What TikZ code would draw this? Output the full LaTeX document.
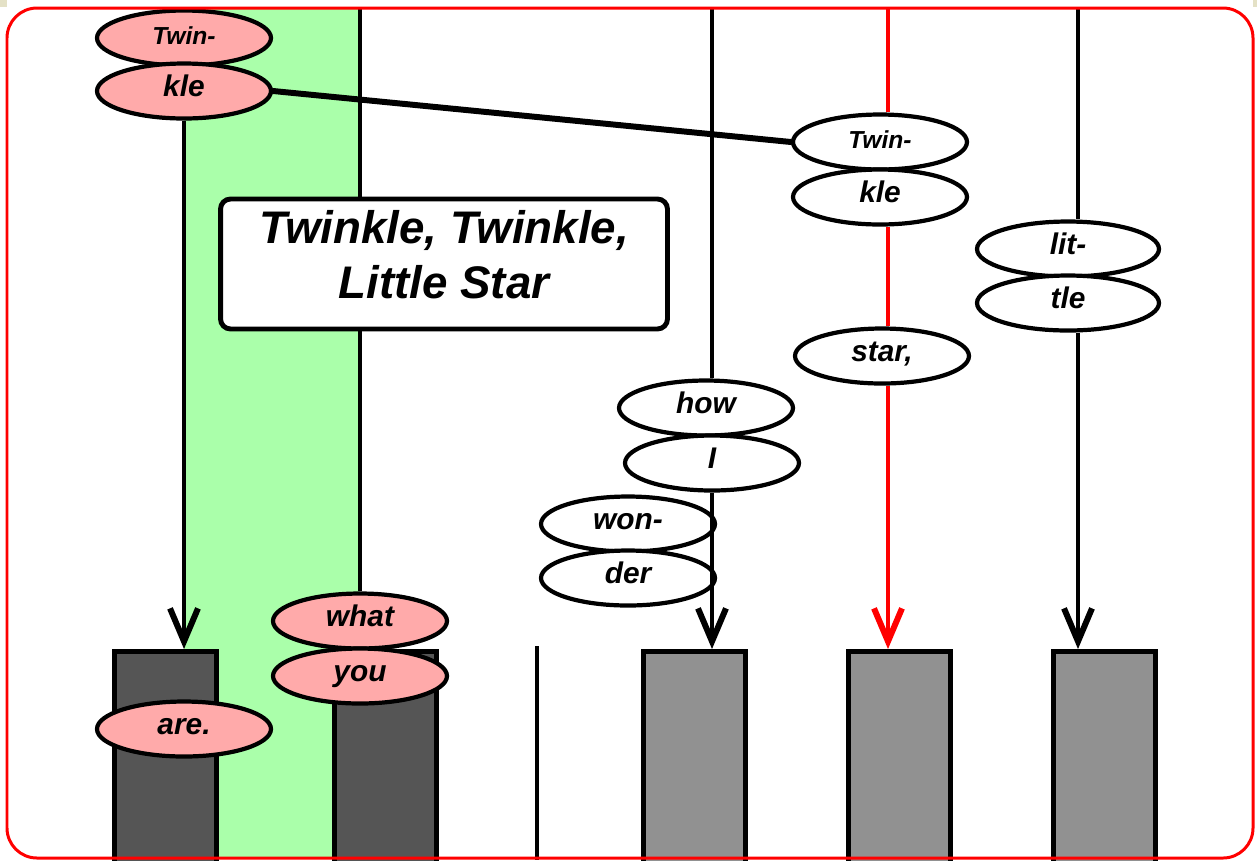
\documentclass[tikz,border=0pt]{standalone}
\usepackage{fontspec}
\setmainfont{Liberation Sans}
\usetikzlibrary{shapes.geometric,arrows.meta}
\definecolor{sungpink}{HTML}{FFAAAA}
\definecolor{bandgreen}{HTML}{AAFFAA}
\definecolor{darkkey}{HTML}{555555}
\definecolor{lightkey}{HTML}{919191}
\definecolor{cornerbeige}{HTML}{E4E1C6}
\begin{document}
\begin{tikzpicture}[x=0.02cm,y=-0.02cm,
  syl/.style={ellipse,draw,line width=2.4pt,fill=white,inner sep=0pt,
    minimum width=3.48cm,minimum height=1.1cm,text height=12pt,text depth=6pt,
    font=\fontsize{17}{20}\selectfont\bfseries\itshape},
  sung/.style={syl,fill=sungpink},
  half/.style={text height=10pt,text depth=2.5pt,
    font=\fontsize{14}{17}\selectfont\bfseries\itshape},
  key/.style={draw,line width=2.8pt,anchor=north west,inner sep=0pt,
    minimum width=2.04cm,minimum height=4.4cm},
  voice/.style={line width=2.4pt},
  tip/.style={-{Straight Barb[length=0.66cm,width=0.56cm,line width=3.4pt]}}]
\useasboundingbox (0,0) rectangle (1257,860);
\fill[cornerbeige] (0,0) rectangle (7,7);
\fill[cornerbeige] (1253,0) rectangle (1257,7);
\fill[bandgreen] (184,8) rectangle (360,858);
\node[key,fill=darkkey] (bar1) at (112,649) {};
\node[key,fill=darkkey] (bar2) at (332,649) {};
\node[key,fill=lightkey] (bar3) at (641,649) {};
\node[key,fill=lightkey] (bar4) at (846,649) {};
\node[key,fill=lightkey] (bar5) at (1051,649) {};
\node[sung,half] (tw1) at (184,38) {Twin-};
\node[sung] (kl1) at (184,91) {kle};
\node[syl,half] (tw2) at (880,142) {Twin-};
\node[syl] (kl2) at (880,197) {kle};
\node[syl,minimum width=3.64cm] (li) at (1068,249) {lit-};
\node[syl,minimum width=3.64cm] (tl) at (1068,303) {tle};
\node[syl] (st) at (882,356) {star,};
\node[syl] (how) at (706,408) {how};
\node[syl] (I) at (712,463) {I};
\node[syl] (won) at (628,524) {won-};
\node[syl] (der) at (628,578) {der};
\node[sung] (what) at (360,621) {what};
\node[sung] (you) at (360,676) {you};
\node[sung] (are) at (184,729) {are.};
\node[draw,line width=2.8pt,rounded corners=0.2cm,fill=white,
  minimum width=8.94cm,minimum height=2.6cm,align=center,
  text height=50pt,text depth=11pt,
  font=\fontsize{26}{31}\selectfont\bfseries\itshape] (title) at (444,264)
  {Twinkle, Twinkle,\\Little Star};
\coordinate (top1) at (360,8);
\coordinate (top2) at (712,8);
\coordinate (top3) at (888,8);
\coordinate (top4) at (1078,8);
\coordinate (foot) at (537,646);
\coordinate (floor) at (537,860);
\draw[voice] (top1) -- (title.north -| top1);
\draw[voice] (title.south -| top1) -- (what);
\draw[voice,tip] (kl1) -- (bar1.north -| kl1);
\draw[voice] (top2) -- (how.north -| top2);
\draw[voice,tip] (I) -- (bar3.north -| I);
\draw[voice,red] (top3) -- (tw2.north -| top3);
\draw[voice,red] (kl2.south -| top3) -- (st.north -| top3);
\draw[voice,red,tip] (st.south -| top3) -- (bar4.north -| top3);
\draw[voice] (top4) -- (li.north -| top4);
\draw[voice,tip] (tl.south -| top4) -- (bar5.north -| top4);
\draw[voice] (foot) -- (floor);
\draw[line width=3.4pt,line cap=round] (kl1.east) -- (tw2.west);
\draw[red,line width=1.7pt,rounded corners=0.6cm] (7,8) rectangle (1253,858);
\end{tikzpicture}
\end{document}
